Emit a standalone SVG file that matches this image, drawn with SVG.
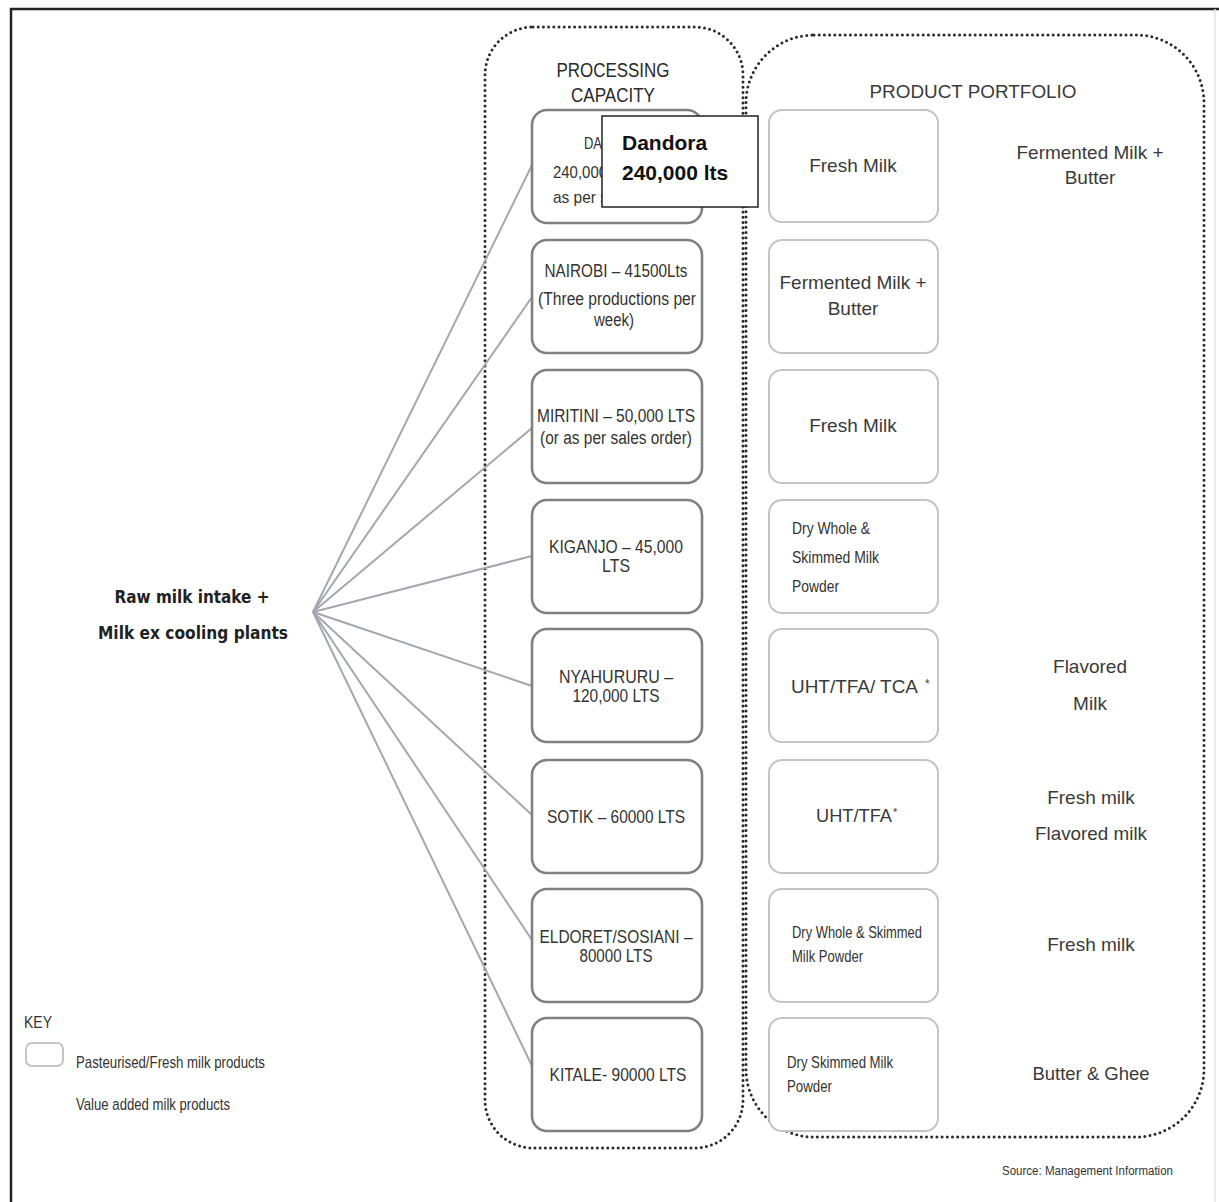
<svg xmlns="http://www.w3.org/2000/svg" width="1219" height="1202" viewBox="0 0 1219 1202">
  <style>
    .frame { fill: none; stroke: #222; stroke-width: 2.5; }
    .zone { fill: none; stroke: #2a2a2a; stroke-width: 3; stroke-dasharray: 0 5.2; stroke-linecap: round; }
    .plant { fill: #fff; stroke: #808080; stroke-width: 2.6; }
    .prod { fill: #fff; stroke: #c4c4c4; stroke-width: 2; }
    .link { stroke: #a4a7b1; stroke-width: 2; fill: none; }
    .narrow { font-family: "Liberation Sans Narrow", "Liberation Sans", Arial, sans-serif; fill: #333; }
    .sans { font-family: "Liberation Sans", Arial, sans-serif; fill: #3a3a3a; }
    .pt { font-size: 18px; text-anchor: middle; }
    .pl { font-size: 17px; }
    .rc { font-size: 19px; text-anchor: middle; }
    .head { font-family: "Liberation Sans Narrow", "Liberation Sans", Arial, sans-serif; fill: #2a2a2a; font-size: 20px; text-anchor: middle; }
  </style>

  <!-- page frame -->
  <path class="frame" d="M11,1202 V9 H1219"/>
  <line x1="1215" y1="9" x2="1215" y2="1202" stroke="#e2e2e2" stroke-width="1.5"/>

  <!-- dotted zones -->
  <g id="zone-processing">
    <rect class="zone" x="485" y="27" width="258" height="1121" rx="48"/>
    <text class="head" x="613" y="77" textLength="113" lengthAdjust="spacingAndGlyphs">PROCESSING</text>
    <text class="head" x="613" y="102" textLength="84" lengthAdjust="spacingAndGlyphs">CAPACITY</text>
  </g>
  <g id="zone-portfolio">
    <rect class="zone" x="746" y="35" width="458" height="1102" rx="68"/>
    <text class="sans" x="973" y="98" font-size="18" text-anchor="middle" fill="#1e1e1e" textLength="207" lengthAdjust="spacingAndGlyphs">PRODUCT PORTFOLIO</text>
  </g>

  <!-- connectors from intake to plants -->
  <g id="connectors">
    <line class="link" x1="313" y1="612" x2="532" y2="165"/>
    <line class="link" x1="313" y1="612" x2="532" y2="297"/>
    <line class="link" x1="313" y1="612" x2="532" y2="428"/>
    <line class="link" x1="313" y1="612" x2="532" y2="556"/>
    <line class="link" x1="313" y1="612" x2="532" y2="686"/>
    <line class="link" x1="313" y1="612" x2="532" y2="815"/>
    <line class="link" x1="313" y1="612" x2="532" y2="940"/>
    <line class="link" x1="313" y1="612" x2="533" y2="1068"/>
  </g>

  <!-- source node -->
  <g id="intake">
    <text x="192" y="603" font-family="DejaVu Sans, Verdana, sans-serif" font-weight="bold" font-size="17" fill="#222" text-anchor="middle" textLength="155" lengthAdjust="spacingAndGlyphs">Raw milk intake +</text>
    <text x="193" y="639" font-family="DejaVu Sans, Verdana, sans-serif" font-weight="bold" font-size="17" fill="#222" text-anchor="middle" textLength="190" lengthAdjust="spacingAndGlyphs">Milk ex cooling plants</text>
  </g>

  <!-- processing plants -->
  <g id="plant-dandora">
    <rect class="plant" x="532" y="110" width="170" height="113" rx="15"/>
    <text class="narrow pl" x="584" y="149" textLength="18" lengthAdjust="spacingAndGlyphs">DA</text>
    <text class="narrow pl" x="553" y="178" textLength="54" lengthAdjust="spacingAndGlyphs">240,000</text>
    <text class="narrow pl" x="553" y="203" textLength="55" lengthAdjust="spacingAndGlyphs">as per s</text>
  </g>
  <g id="plant-nairobi">
    <rect class="plant" x="532" y="240" width="170" height="113" rx="15"/>
    <text class="narrow pt" x="616" y="277" textLength="143" lengthAdjust="spacingAndGlyphs">NAIROBI – 41500Lts</text>
    <text class="narrow pt" x="617" y="305" textLength="158" lengthAdjust="spacingAndGlyphs">(Three productions per</text>
    <text class="narrow pt" x="614" y="326" textLength="40" lengthAdjust="spacingAndGlyphs">week)</text>
  </g>
  <g id="plant-miritini">
    <rect class="plant" x="532" y="370" width="170" height="113" rx="15"/>
    <text class="narrow pt" x="616" y="422" textLength="158" lengthAdjust="spacingAndGlyphs">MIRITINI – 50,000 LTS</text>
    <text class="narrow pt" x="616" y="444" textLength="152" lengthAdjust="spacingAndGlyphs">(or as per sales order)</text>
  </g>
  <g id="plant-kiganjo">
    <rect class="plant" x="532" y="500" width="170" height="113" rx="15"/>
    <text class="narrow pt" x="616" y="553" textLength="134" lengthAdjust="spacingAndGlyphs">KIGANJO – 45,000</text>
    <text class="narrow pt" x="616" y="572" textLength="28" lengthAdjust="spacingAndGlyphs">LTS</text>
  </g>
  <g id="plant-nyahururu">
    <rect class="plant" x="532" y="629" width="170" height="113" rx="15"/>
    <text class="narrow pt" x="616" y="683" textLength="114" lengthAdjust="spacingAndGlyphs">NYAHURURU –</text>
    <text class="narrow pt" x="616" y="702" textLength="87" lengthAdjust="spacingAndGlyphs">120,000 LTS</text>
  </g>
  <g id="plant-sotik">
    <rect class="plant" x="532" y="760" width="170" height="113" rx="15"/>
    <text class="narrow pt" x="616" y="823" textLength="138" lengthAdjust="spacingAndGlyphs">SOTIK – 60000 LTS</text>
  </g>
  <g id="plant-eldoret">
    <rect class="plant" x="532" y="889" width="170" height="113" rx="15"/>
    <text class="narrow pt" x="616" y="943" textLength="153" lengthAdjust="spacingAndGlyphs">ELDORET/SOSIANI –</text>
    <text class="narrow pt" x="616" y="962" textLength="73" lengthAdjust="spacingAndGlyphs">80000 LTS</text>
  </g>
  <g id="plant-kitale">
    <rect class="plant" x="532" y="1018" width="170" height="113" rx="15"/>
    <text class="narrow pt" x="618" y="1081" textLength="137" lengthAdjust="spacingAndGlyphs">KITALE- 90000 LTS</text>
  </g>

  <!-- overlay label on the first plant -->
  <g id="callout-dandora">
    <rect x="602" y="116" width="156" height="91" fill="#fff" stroke="#222" stroke-width="1.5"/>
    <text x="622" y="150" font-family="Liberation Sans, Arial, sans-serif" font-weight="bold" font-size="21" fill="#111">Dandora</text>
    <text x="622" y="180" font-family="Liberation Sans, Arial, sans-serif" font-weight="bold" font-size="21" fill="#111">240,000 lts</text>
  </g>

  <!-- fresh milk products -->
  <g id="prod-1">
    <rect class="prod" x="769" y="110" width="169" height="112" rx="13"/>
    <text class="sans rc" x="853" y="172">Fresh Milk</text>
  </g>
  <g id="prod-2">
    <rect class="prod" x="769" y="240" width="169" height="113" rx="13"/>
    <text class="sans rc" x="853" y="289" textLength="147" lengthAdjust="spacingAndGlyphs">Fermented Milk +</text>
    <text class="sans rc" x="853" y="315">Butter</text>
  </g>
  <g id="prod-3">
    <rect class="prod" x="769" y="370" width="169" height="113" rx="13"/>
    <text class="sans rc" x="853" y="432">Fresh Milk</text>
  </g>
  <g id="prod-4">
    <rect class="prod" x="769" y="500" width="169" height="113" rx="13"/>
    <text class="narrow pl" x="792" y="534" textLength="78" lengthAdjust="spacingAndGlyphs">Dry Whole &amp;</text>
    <text class="narrow pl" x="792" y="563" textLength="87" lengthAdjust="spacingAndGlyphs">Skimmed Milk</text>
    <text class="narrow pl" x="792" y="592" textLength="47" lengthAdjust="spacingAndGlyphs">Powder</text>
  </g>
  <g id="prod-5">
    <rect class="prod" x="769" y="629" width="169" height="113" rx="13"/>
    <text class="sans" x="791" y="693" font-size="19" textLength="127" lengthAdjust="spacingAndGlyphs">UHT/TFA/  TCA</text>
    <text class="sans" x="925" y="688" font-size="12">*</text>
  </g>
  <g id="prod-6">
    <rect class="prod" x="769" y="760" width="169" height="113" rx="13"/>
    <text class="sans" x="816" y="822" font-size="19" textLength="76" lengthAdjust="spacingAndGlyphs">UHT/TFA</text>
    <text class="sans" x="893" y="816" font-size="11">*</text>
  </g>
  <g id="prod-7">
    <rect class="prod" x="769" y="889" width="169" height="113" rx="13"/>
    <text class="narrow pl" x="792" y="938" textLength="130" lengthAdjust="spacingAndGlyphs">Dry Whole &amp; Skimmed</text>
    <text class="narrow pl" x="792" y="962" textLength="71" lengthAdjust="spacingAndGlyphs">Milk Powder</text>
  </g>
  <g id="prod-8">
    <rect class="prod" x="769" y="1018" width="169" height="113" rx="13"/>
    <text class="narrow pl" x="787" y="1068" textLength="106" lengthAdjust="spacingAndGlyphs">Dry Skimmed Milk</text>
    <text class="narrow pl" x="787" y="1092" textLength="45" lengthAdjust="spacingAndGlyphs">Powder</text>
  </g>

  <!-- value added products -->
  <g id="va-1">
    <text class="sans rc" x="1090" y="159" textLength="147" lengthAdjust="spacingAndGlyphs">Fermented Milk +</text>
    <text class="sans rc" x="1090" y="184">Butter</text>
  </g>
  <g id="va-2">
    <text class="sans rc" x="1090" y="673">Flavored</text>
    <text class="sans rc" x="1090" y="710">Milk</text>
  </g>
  <g id="va-3">
    <text class="sans rc" x="1091" y="804">Fresh milk</text>
    <text class="sans rc" x="1091" y="840" textLength="112" lengthAdjust="spacingAndGlyphs">Flavored milk</text>
  </g>
  <g id="va-4">
    <text class="sans rc" x="1091" y="951">Fresh milk</text>
  </g>
  <g id="va-5">
    <text class="sans rc" x="1091" y="1080" textLength="117" lengthAdjust="spacingAndGlyphs">Butter &amp; Ghee</text>
  </g>

  <!-- legend -->
  <g id="legend">
    <text class="narrow" x="24" y="1028" font-size="17" fill="#222" textLength="28" lengthAdjust="spacingAndGlyphs">KEY</text>
    <rect x="26" y="1043" width="37" height="23" rx="6" fill="#fff" stroke="#c4c4c4" stroke-width="2"/>
    <text class="narrow" x="76" y="1068" font-size="17" textLength="189" lengthAdjust="spacingAndGlyphs">Pasteurised/Fresh milk products</text>
    <text class="narrow" x="76" y="1110" font-size="17" textLength="154" lengthAdjust="spacingAndGlyphs">Value added milk products</text>
  </g>

  <text class="narrow" x="1002" y="1175" font-size="12" fill="#444" textLength="171" lengthAdjust="spacingAndGlyphs">Source: Management Information</text>
</svg>
